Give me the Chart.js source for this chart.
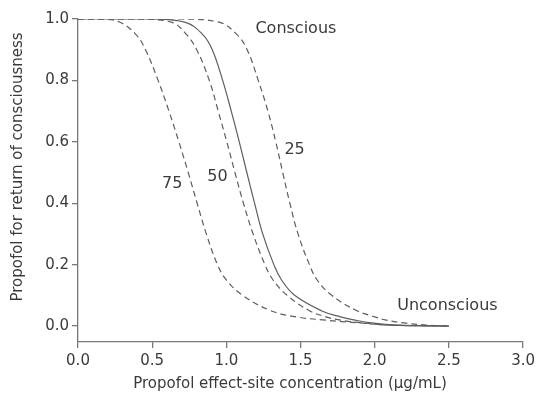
<!DOCTYPE html>
<html>
<head>
<meta charset="utf-8">
<script src="https://cdn.jsdelivr.net/npm/chart.js@4.4.0/dist/chart.umd.min.js"></script>
<style>
  html, body { margin: 0; padding: 0; background: #fff; }
  #wrap { width: 539px; height: 397px; }
</style>
</head>
<body>
<div id="wrap"><canvas id="chart"></canvas></div>
<script>
const xTicks = [0, 0.5, 1.0, 1.5, 2.0, 2.5, 3.0];
const yTicks = [0, 0.2, 0.4, 0.6, 0.8, 1.0];

const probLevels = [1, 1, 0.99, 0.95, 0.9, 0.8, 0.7, 0.6, 0.5, 0.4, 0.3, 0.2, 0.15, 0.1, 0.05, 0.03, 0.02, 0.01, 0.003, 0];

// solid curve (no label)
const solidX = [0, 0.5, 0.72, 0.84, 0.905, 0.975, 1.033, 1.087, 1.138, 1.19, 1.245, 1.32, 1.372, 1.46, 1.64, 1.77, 1.86, 1.98, 2.15, 2.5];
// dashed "75"
const p75X = [0, 0.15, 0.28, 0.39, 0.455, 0.54, 0.613, 0.68, 0.743, 0.803, 0.865, 0.94, 1.0, 1.11, 1.3, 1.47, 1.65, 1.9, 2.1, 2.5];
// dashed "50"
const p50X = [0, 0.4, 0.63, 0.73, 0.80, 0.885, 0.945, 1.003, 1.058, 1.115, 1.18, 1.26, 1.315, 1.41, 1.56, 1.67, 1.76, 1.92, 2.1, 2.5];
// dashed "25"
const p25X = [0, 0.7, 0.95, 1.07, 1.14, 1.215, 1.28, 1.333, 1.38, 1.428, 1.483, 1.56, 1.612, 1.71, 1.88, 2.0, 2.07, 2.2, 2.35, 2.5];

const curveLabels = [
  { text: "Conscious", x: 1.196, y: 0.968, align: "left" },
  { text: "Unconscious", x: 2.49, y: 0.065, align: "center" },
  { text: "25", x: 1.46, y: 0.574, align: "center" },
  { text: "50", x: 0.94, y: 0.486, align: "center" },
  { text: "75", x: 0.635, y: 0.463, align: "center" },
];

const FONT = "'DejaVu Sans', sans-serif";
const TEXT = "#3a3a3a";
const AXIS = "#777";
const LINE = "#5e5e5e";

const toPts = (xs) => xs.map((x, i) => ({ x, y: probLevels[i] }));

function curve(xs, dashed) {
  return {
    data: toPts(xs),
    borderColor: LINE,
    borderWidth: 1.2,
    borderDash: dashed ? [6, 4] : [],
    pointRadius: 0,
    fill: false,
    tension: 0.4,
  };
}

const textPlugin = {
  id: "textPlugin",
  afterDraw(chart) {
    const { ctx, scales } = chart;
    ctx.save();
    ctx.fillStyle = TEXT;
    ctx.textBaseline = "middle";
    ctx.font = "16px " + FONT;
    curveLabels.forEach((l) => {
      ctx.textAlign = l.align;
      ctx.fillText(l.text, scales.x.getPixelForValue(l.x), scales.y.getPixelForValue(l.y));
    });
    // axis titles
    ctx.font = "15px " + FONT;
    ctx.textAlign = "center";
    ctx.fillText("Propofol effect-site concentration (\u03bcg/mL)", 290, 384);
    ctx.translate(18, 167);
    ctx.rotate(-Math.PI / 2);
    ctx.fillText("Propofol for return of consciousness", 0, 0);
    ctx.restore();
  },
};

new Chart(document.getElementById("chart").getContext("2d"), {
  type: "line",
  data: {
    datasets: [
      curve(solidX, false),
      curve(p75X, true),
      curve(p50X, true),
      curve(p25X, true),
    ],
  },
  options: {
    responsive: true,
    maintainAspectRatio: false,
    animation: false,
    layout: { padding: { top: 19, right: 12, left: 0, bottom: 0 } },
    plugins: { legend: { display: false }, tooltip: { enabled: false } },
    scales: {
      x: {
        type: "linear",
        min: 0,
        max: 3,
        afterBuildTicks: (scale) => { scale.ticks = xTicks.map((v) => ({ value: v })); },
        afterFit: (scale) => { scale.height = 55; },
        ticks: { color: TEXT, font: { family: FONT, size: 15 }, padding: 4, callback: (v) => v.toFixed(1) },
        grid: { drawOnChartArea: false, drawTicks: true, tickLength: 6, color: AXIS, lineWidth: 1.3 },
        border: { color: AXIS, width: 1.3 },
      },
      y: {
        type: "linear",
        min: -0.052,
        max: 1.0,
        afterBuildTicks: (scale) => { scale.ticks = yTicks.map((v) => ({ value: v })); },
        afterFit: (scale) => { scale.width = 78; },
        ticks: { color: TEXT, font: { family: FONT, size: 15 }, padding: 3, callback: (v) => v.toFixed(1) },
        grid: { drawOnChartArea: false, drawTicks: true, tickLength: 6, color: AXIS, lineWidth: 1.3 },
        border: { color: AXIS, width: 1.3 },
      },
    },
  },
  plugins: [textPlugin],
});
</script>
</body>
</html>
